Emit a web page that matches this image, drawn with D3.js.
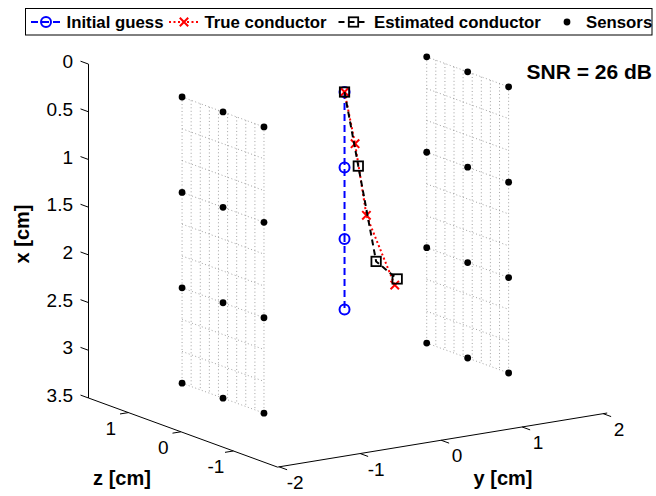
<!DOCTYPE html>
<html><head><meta charset="utf-8">
<script src="https://cdn.jsdelivr.net/npm/d3@7"></script>
<style>
html,body{margin:0;padding:0;background:#fff;}
svg{display:block;font-family:"Liberation Sans",Arial,Helvetica,sans-serif;}
</style></head>
<body>
<svg id="chart" width="656" height="496"></svg>
<script>
// ---- data ----
const xTicks = [0, 0.5, 1, 1.5, 2, 2.5, 3, 3.5];
const yTicks = [-2, -1, 0, 1, 2];
const zTicks = [-1, 0, 1];
const xLim = [0, 3.5];
const yLim = [-2.02, 2.05];
const zLim = [-1.84, 1.76];

const guessX = [0.22, 1.01, 1.76, 2.5];
const guessY = [0, 0, 0, 0];
const guessZ = [0, 0, 0, 0];

const trueX = [0.22, 0.78, 1.55, 2.33];
const trueY = [0, 0.13, 0.27, 0.62];
const trueZ = [0, 0, 0, 0];

const estX = [0.22, 1.02, 2.05, 2.27];
const estY = [0, 0.17, 0.39, 0.65];
const estZ = [0, 0, 0, 0];

const sensorPlaneY = [-1.5, 1.52];
const sensorX = [0.22, 1.22, 2.22, 3.22];
const sensorZ = [0.78, 0, -0.78];

const gridX = [0.22, 0.553, 0.887, 1.22, 1.553, 1.887, 2.22, 2.553, 2.887, 3.22];
const gridZ = [0.78, 0.607, 0.433, 0.26, 0.087, -0.087, -0.26, -0.433, -0.607, -0.78];

const legendLabels = ["Initial guess", "True conductor", "Estimated conductor", "Sensors"];
const snrLabel = "SNR = 26 dB";

// ---- projection (orthographic view) ----
const A = [277.5, 133.2];           // screen of (x=0, y=ymin, z=zmin)
const Vx = [0, 333.9], Vy = [329.7, -54.1], Vz = [-189, -69.1];
const tx = d3.scaleLinear().domain(xLim).range([0, 1]);
const ty = d3.scaleLinear().domain(yLim).range([0, 1]);
const tz = d3.scaleLinear().domain(zLim).range([0, 1]);
function proj(x, y, z) {
  const a = tx(x), b = ty(y), c = tz(z);
  return [A[0] + a * Vx[0] + b * Vy[0] + c * Vz[0],
          A[1] + a * Vx[1] + b * Vy[1] + c * Vz[1]];
}
function unit(v){const l=Math.hypot(v[0],v[1]);return [v[0]/l,v[1]/l];}

const svg = d3.select("#chart");
const line = d3.line();

// ---- axes ----
const ax = svg.append("g").attr("stroke", "#000").attr("stroke-width", 1).attr("fill", "none");
ax.append("path").attr("d", line([proj(xLim[0], yLim[0], zLim[1]), proj(xLim[1], yLim[0], zLim[1])]));
ax.append("path").attr("d", line([proj(xLim[1], yLim[0], zLim[1]), proj(xLim[1], yLim[0], zLim[0])]));
ax.append("path").attr("d", line([proj(xLim[1], yLim[0], zLim[0]), proj(xLim[1], yLim[1], zLim[0])]));

const uz = unit(Vz), uy = unit(Vy);
const tl = 8.5;
const labels = svg.append("g").attr("font-size", 19).attr("fill", "#000");

xTicks.forEach(v => {
  const p = proj(v, yLim[0], zLim[1]);
  const q = [p[0] + uz[0] * tl, p[1] + uz[1] * tl];
  ax.append("path").attr("d", line([p, q]));
  labels.append("text").attr("x", 73).attr("y", q[1] + 0.5)
    .attr("text-anchor", "end").attr("dominant-baseline", "central").text(v);
});
zTicks.forEach(v => {
  const p = proj(xLim[1], yLim[0], v);
  const q = [p[0] - uy[0] * tl, p[1] - uy[1] * tl];
  ax.append("path").attr("d", line([p, q]));
  labels.append("text").attr("x", p[0] - 17.5).attr("y", p[1] + 16)
    .attr("text-anchor", "middle").attr("dominant-baseline", "central").text(v);
});
yTicks.forEach(v => {
  const p = proj(xLim[1], v, zLim[0]);
  const q = [p[0] - uz[0] * tl, p[1] - uz[1] * tl];
  ax.append("path").attr("d", line([p, q]));
  labels.append("text").attr("x", p[0] + 16).attr("y", p[1] + 15.5)
    .attr("text-anchor", "middle").attr("dominant-baseline", "central").text(v);
});

// axis titles
svg.append("text").attr("font-size", 20).attr("font-weight", "bold")
  .attr("transform", "translate(29,234) rotate(-90)").attr("text-anchor", "middle").text("x [cm]");
svg.append("text").attr("font-size", 20).attr("font-weight", "bold")
  .attr("x", 122).attr("y", 485).attr("text-anchor", "middle").text("z [cm]");
svg.append("text").attr("font-size", 20).attr("font-weight", "bold")
  .attr("x", 503).attr("y", 485).attr("text-anchor", "middle").text("y [cm]");

// ---- sensor planes grid ----
const grid = svg.append("g").attr("stroke", "#8a8a8a").attr("stroke-width", 0.8)
  .attr("stroke-dasharray", "1,2.5").attr("fill", "none");
sensorPlaneY.forEach(yp => {
  gridZ.forEach(z => grid.append("path").attr("d", line([proj(gridX[0], yp, z), proj(gridX[gridX.length - 1], yp, z)])));
  gridX.forEach(x => grid.append("path").attr("d", line([proj(x, yp, gridZ[0]), proj(x, yp, gridZ[gridZ.length - 1])])));
});

// ---- series ----
function pts(X, Y, Z) { return X.map((x, i) => proj(x, Y[i], Z[i])); }
const gP = pts(guessX, guessY, guessZ);
const tP = pts(trueX, trueY, trueZ);
const eP = pts(estX, estY, estZ);

function circleMarker(g, p) {
  g.append("circle").attr("cx", p[0]).attr("cy", p[1]).attr("r", 5)
    .attr("fill", "none").attr("stroke", "#0000ff").attr("stroke-width", 2);
}
function xMarker(g, p) {
  const s = 4.2;
  g.append("path").attr("d", `M${p[0]-s},${p[1]-s}L${p[0]+s},${p[1]+s}M${p[0]-s},${p[1]+s}L${p[0]+s},${p[1]-s}`)
    .attr("stroke", "#ff0000").attr("stroke-width", 2).attr("fill", "none");
}
function sqMarker(g, p) {
  g.append("rect").attr("x", p[0] - 4.7).attr("y", p[1] - 4.7).attr("width", 9.4).attr("height", 9.4)
    .attr("fill", "none").attr("stroke", "#000").attr("stroke-width", 1.8);
}

const gs = svg.append("g");
gs.append("path").attr("d", line(gP)).attr("fill", "none").attr("stroke", "#0000ff")
  .attr("stroke-width", 2).attr("stroke-dasharray", "7,4");
gP.forEach(p => circleMarker(gs, p));

const ts = svg.append("g");
ts.append("path").attr("d", line(tP)).attr("fill", "none").attr("stroke", "#ff0000")
  .attr("stroke-width", 2).attr("stroke-dasharray", "2,2.5");
tP.forEach(p => xMarker(ts, p));

const es = svg.append("g");
es.append("path").attr("d", line(eP)).attr("fill", "none").attr("stroke", "#000")
  .attr("stroke-width", 2).attr("stroke-dasharray", "6,4");
eP.forEach(p => sqMarker(es, p));

const ss = svg.append("g");
sensorPlaneY.forEach(yp => sensorX.forEach(x => sensorZ.forEach(z => {
  const p = proj(x, yp, z);
  ss.append("circle").attr("cx", p[0]).attr("cy", p[1]).attr("r", 3.4).attr("fill", "#000");
})));

// ---- SNR annotation ----
svg.append("text").attr("x", 652).attr("y", 78.5).attr("text-anchor", "end")
  .attr("font-size", 21).attr("font-weight", "bold").text(snrLabel);

// ---- legend ----
const lg = svg.append("g");
lg.append("rect").attr("x", 25.5).attr("y", 8.5).attr("width", 626.5).attr("height", 26.5)
  .attr("fill", "#fff").attr("stroke", "#000").attr("stroke-width", 1);
const ly = 22;
const legX = [46, 184, 353.5, 567];
const legTextX = [66.5, 204.5, 374, 586];
lg.append("path").attr("d", line([[legX[0]-15, ly], [legX[0]+15, ly]])).attr("stroke", "#0000ff")
  .attr("stroke-width", 2).attr("stroke-dasharray", "7,4").attr("fill", "none");
circleMarker(lg, [legX[0], ly]);
lg.append("path").attr("d", line([[legX[1]-15, ly], [legX[1]+15, ly]])).attr("stroke", "#ff0000")
  .attr("stroke-width", 2).attr("stroke-dasharray", "2,2.5").attr("fill", "none");
xMarker(lg, [legX[1], ly]);
lg.append("path").attr("d", line([[legX[2]-15, ly], [legX[2]+15, ly]])).attr("stroke", "#000")
  .attr("stroke-width", 2).attr("stroke-dasharray", "6,4").attr("fill", "none");
sqMarker(lg, [legX[2], ly]);
lg.append("circle").attr("cx", legX[3]).attr("cy", ly).attr("r", 3.4).attr("fill", "#000");
legendLabels.forEach((t, i) => {
  lg.append("text").attr("x", legTextX[i]).attr("y", 28.3).attr("font-size", 16.8)
    .attr("font-weight", "bold").text(t);
});
</script>
</body></html>
